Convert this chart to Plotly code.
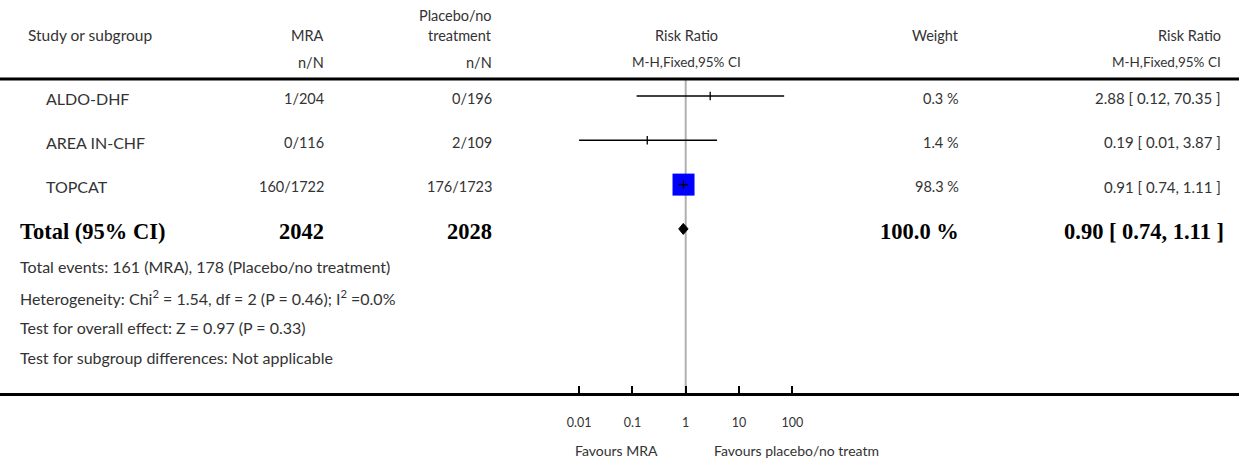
import math
import plotly.graph_objects as go

# ---- data ----
studies = ["ALDO-DHF", "AREA IN-CHF", "TOPCAT"]
mra_nN = ["1/204", "0/116", "160/1722"]
placebo_nN = ["0/196", "2/109", "176/1723"]
rr = [2.88, 0.19, 0.91]
rr_lo = [0.12, 0.01, 0.74]
rr_hi = [70.35, 3.87, 1.11]
weights = [0.3, 1.4, 98.3]
total_mra = 2042
total_placebo = 2028
total_rr = 0.90
total_lo = 0.74
total_hi = 1.11
total_weight = 100.0
tick_vals = [0.01, 0.1, 1, 10, 100]
tick_text = ["0.01", "0.1", "1", "10", "100"]
footer = [
    "Total events: 161 (MRA), 178 (Placebo/no treatment)",
    "Heterogeneity: Chi<sup>2</sup> = 1.54, df = 2 (P = 0.46); I<sup>2</sup> =0.0%",
    "Test for overall effect: Z = 0.97 (P = 0.33)",
    "Test for subgroup differences: Not applicable",
]

W, H = 1239, 464
FONT = "Lato, 'Open Sans', sans-serif"
SERIF = "'Liberation Serif', 'DejaVu Serif', serif"
TXT = "#333333"

# layout geometry (pixel model)
px_one = 685.7      # pixel of RR = 1
px_dec = 53.3       # pixels per decade
row0 = 96.0         # pixel of first row
row_h = 44.3        # row spacing
axis_px = 393.0     # axis line pixel (bottom of plot area)

def yi(px):
    return (px - row0) / row_h

def xp(px):
    return px / W

xr = [-px_one / px_dec, (W - px_one) / px_dec]
yr = [yi(axis_px), yi(0)]

fig = go.Figure()

rows = list(range(len(studies)))
total_row = len(studies)

# weighted squares
max_w = max(weights)
fig.add_trace(go.Scatter(
    x=rr, y=rows, mode="markers",
    marker=dict(symbol="square", size=[22 * w / max_w for w in weights],
                color="#0000ff", opacity=1, line=dict(width=0)),
    opacity=1, hoverinfo="skip", showlegend=False))

# CI lines
for i in rows:
    fig.add_trace(go.Scatter(
        x=[rr_lo[i], rr_hi[i]], y=[i, i], mode="lines",
        line=dict(color="black", width=1.5),
        hoverinfo="skip", showlegend=False))

# point estimate ticks
fig.add_trace(go.Scatter(
    x=rr, y=rows, mode="markers",
    marker=dict(symbol="line-ns-open", size=6, color="black",
                line=dict(color="black", width=1.3)),
    hoverinfo="skip", showlegend=False))

# total diamond
dh = 5.5 / row_h
fig.add_trace(go.Scatter(
    x=[total_lo, total_rr, total_hi, total_rr, total_lo],
    y=[total_row, total_row - dh, total_row, total_row + dh, total_row],
    mode="lines", fill="toself", fillcolor="black",
    line=dict(color="black", width=1),
    hoverinfo="skip", showlegend=False))

shapes = [
    # header rule
    dict(type="line", xref="paper", yref="y", x0=0, x1=1, y0=yi(79), y1=yi(79),
         line=dict(color="black", width=3)),
    # line of no effect
    dict(type="line", xref="x", yref="y", x0=1, x1=1, y0=yi(79), y1=yi(axis_px),
         line=dict(color="#b0b0b0", width=2), layer="below"),
]

ann = []

def add_text(text, x, y, anchor, size=15.5, color=TXT, family=FONT, yref="y"):
    ann.append(dict(text=text, x=x, y=y, xref="paper", yref=yref,
                    xanchor=anchor, yanchor="middle", showarrow=False,
                    font=dict(size=size, color=color, family=family)))

c_head = xp(26)
c_name = xp(44)
c_mra = xp(326)
c_pla = xp(494)
c_rr = xp(686)
c_w = xp(961)
c_ci = xp(1223)
HS = 14.5

# headers
add_text("Study or subgroup", c_head, yi(35), "left", size=15.5)
add_text("MRA", c_mra, yi(35), "right", size=HS)
add_text("n/N", c_mra, yi(62), "right", size=HS)
add_text("Placebo/no", c_pla, yi(15), "right", size=HS)
add_text("treatment", c_pla, yi(35), "right", size=HS)
add_text("n/N", c_pla, yi(62), "right", size=HS)
add_text("Risk Ratio", c_rr, yi(35), "center", size=HS)
add_text("M-H,Fixed,95% CI", c_rr, yi(62), "center", size=HS - 1)
add_text("Weight", c_w, yi(35), "right", size=HS)
add_text("Risk Ratio", c_ci, yi(35), "right", size=HS)
add_text("M-H,Fixed,95% CI", c_ci, yi(62), "right", size=HS - 1)

# study rows
for i in rows:
    y = i + 2 / row_h
    add_text(studies[i], c_name, y, "left", size=16)
    add_text(mra_nN[i], c_mra, y, "right", size=HS)
    add_text(placebo_nN[i], c_pla, y, "right", size=HS)
    add_text(f"{weights[i]:.1f} %", c_w, y, "right", size=HS)
    add_text(f"{rr[i]:.2f} [ {rr_lo[i]:.2f}, {rr_hi[i]:.2f} ]", c_ci, y, "right", size=HS + 0.5)

# total row
yt = total_row + 3 / row_h
TS = 22.5
add_text("<b>Total (95% CI)</b>", xp(18), yt, "left", size=TS, color="black", family=SERIF)
add_text(f"<b>{total_mra}</b>", c_mra, yt, "right", size=TS, color="black", family=SERIF)
add_text(f"<b>{total_placebo}</b>", c_pla, yt, "right", size=TS, color="black", family=SERIF)
add_text(f"<b>{total_weight:.1f} %</b>", c_w, yt, "right", size=TS, color="black", family=SERIF)
add_text(f"<b>{total_rr:.2f} [ {total_lo:.2f}, {total_hi:.2f} ]</b>", xp(1226), yt, "right",
         size=TS, color="black", family=SERIF)

# footer
for t, py in zip(footer, [266, 297, 327, 357]):
    add_text(t, xp(18), yi(py), "left", size=16)

# favours labels (below axis)
plot_h = axis_px
add_text("Favours MRA", xp(616), (axis_px - 451) / plot_h, "center", size=14, yref="paper")
add_text("Favours placebo/no treatm", xp(712), (axis_px - 451) / plot_h, "left", size=14, yref="paper")

fig.update_layout(
    width=W, height=H,
    margin=dict(l=0, r=0, t=0, b=H - axis_px),
    paper_bgcolor="white", plot_bgcolor="white",
    shapes=shapes, annotations=ann, showlegend=False,
    xaxis=dict(type="log", range=xr, domain=[0, 1],
               showgrid=False, zeroline=False,
               showline=True, linecolor="black", linewidth=3,
               ticks="inside", ticklen=7, tickwidth=2, tickcolor="black",
               tickvals=tick_vals, ticktext=tick_text,
               tickfont=dict(size=12.5, color=TXT, family=FONT),
               ticklabelstandoff=16, fixedrange=True),
    yaxis=dict(range=yr, showgrid=False, zeroline=False, showline=False,
               showticklabels=False, ticks="", fixedrange=True),
)

fig.write_html("out.html")
